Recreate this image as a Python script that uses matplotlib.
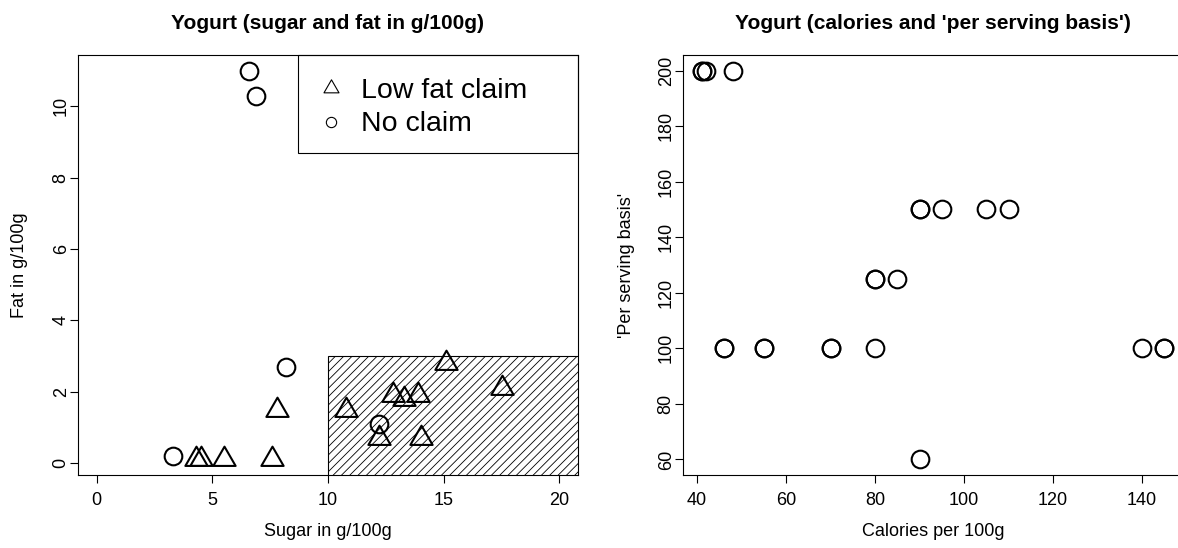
import matplotlib

matplotlib.use("Agg")
import matplotlib.pyplot as plt
from matplotlib.patches import Rectangle
from matplotlib.path import Path

plt.rcParams["font.family"] = ["Liberation Sans", "DejaVu Sans"]
plt.rcParams["hatch.linewidth"] = 0.6

# Left panel: sugar vs fat (g/100g)
sugar_lowfat = [15.1, 17.5, 12.8, 13.3, 13.9, 10.8, 12.2, 14.0, 7.8, 7.6, 5.5, 4.3, 4.5]
fat_lowfat = [2.8, 2.1, 1.9, 1.8, 1.9, 1.5, 0.7, 0.7, 1.5, 0.1, 0.1, 0.1, 0.1]
sugar_noclaim = [6.6, 6.9, 8.2, 3.3, 12.2]
fat_noclaim = [11.0, 10.3, 2.7, 0.2, 1.1]
sugar_range = (0, 20)
sugar_ticks = [0, 5, 10, 15, 20]
fat_ticks = [0, 2, 4, 6, 8, 10]
SUGAR_CUT = 10  # shaded region: sugar >= 10 and fat <= 3
FAT_CUT = 3

# Right panel: calories vs 'per serving basis'
calories = [41, 41, 42, 48, 46, 46, 55, 55, 70, 70, 80, 80, 80, 85,
            90, 90, 95, 105, 110, 90, 140, 145, 145]
serving = [200, 200, 200, 200, 100, 100, 100, 100, 100, 100, 100, 125, 125, 125,
           150, 150, 150, 150, 150, 60, 100, 100, 100]
cal_ticks = [40, 60, 80, 100, 120, 140]
serving_ticks = [60, 80, 100, 120, 140, 160, 180, 200]

# R-like open triangle (pch = 2), centred on its circumcentre
TRIANGLE = Path(
    [(0, 1.555), (1.347, -0.778), (-1.347, -0.778), (0, 1.555)],
    [Path.MOVETO, Path.LINETO, Path.LINETO, Path.CLOSEPOLY],
)


def r_lim(lo, hi):
    """Pad a range by 4% on each side like R's default xaxs='r'."""
    pad = 0.04 * (hi - lo)
    return lo - pad, hi + pad


def r_axes(ax, xticks, yticks):
    ax.set_xticks(xticks)
    ax.set_yticks(yticks)
    ax.tick_params(direction="out", length=5.5, width=0.8, labelsize=13)
    ax.tick_params(axis="x", pad=7)
    ax.tick_params(axis="y", pad=0.5)
    plt.setp(ax.get_yticklabels(), rotation=90, va="center")
    for spine in ax.spines.values():
        spine.set_linewidth(0.8)


fig = plt.figure(figsize=(11.78, 5.48), dpi=100)
ax1 = fig.add_axes([0.0662, 0.1332, 0.4244, 0.7664])
ax2 = fig.add_axes([0.5798, 0.1332, 0.4244, 0.7664])

# --- left panel ---
ax1.add_patch(Rectangle((SUGAR_CUT, -5), 30, FAT_CUT + 5, fill=False,
                        hatch="////", edgecolor="black", linewidth=0.8))
ax1.plot(sugar_lowfat, fat_lowfat, ls="none", marker=TRIANGLE, ms=18.5,
         mfc="none", mec="black", mew=1.5)
ax1.plot(sugar_noclaim, fat_noclaim, ls="none", marker="o", ms=12.7,
         mfc="none", mec="black", mew=1.5)
ax1.set_xlim(*r_lim(*sugar_range))
ax1.set_ylim(*r_lim(min(fat_lowfat + fat_noclaim), max(fat_lowfat + fat_noclaim)))
r_axes(ax1, sugar_ticks, fat_ticks)
ax1.set_title("Yogurt (sugar and fat in g/100g)", fontsize=15, fontweight="bold", pad=19)
ax1.set_xlabel("Sugar in g/100g", fontsize=13)
ax1.set_ylabel("Fat in g/100g", fontsize=13)
ax1.xaxis.set_label_coords(0.5, -0.115)
ax1.yaxis.set_label_coords(-0.099, 0.5)

# hand-drawn legend box in the top-right corner, R style
ax1.add_patch(Rectangle((0.4395, 0.7667), 0.5605, 0.2333, transform=ax1.transAxes,
                        fill=False, edgecolor="black", linewidth=0.8, clip_on=False))
ax1.plot([0.5056], [0.9220], transform=ax1.transAxes, marker=TRIANGLE, ms=12.5,
         mfc="none", mec="black", mew=0.8, ls="none")
ax1.plot([0.5056], [0.8405], transform=ax1.transAxes, marker="o", ms=7.4,
         mfc="none", mec="black", mew=0.8, ls="none")
ax1.text(0.5670, 0.8976, "Low fat claim", transform=ax1.transAxes, fontsize=20.5, va="baseline")
ax1.text(0.5670, 0.8181, "No claim", transform=ax1.transAxes, fontsize=20.5, va="baseline")

# --- right panel (its right edge falls outside the picture) ---
ax2.plot(calories, serving, ls="none", marker="o", ms=12.7,
         mfc="none", mec="black", mew=1.5, clip_on=False)
ax2.set_xlim(*r_lim(min(calories), max(calories)))
ax2.set_ylim(*r_lim(min(serving), max(serving)))
r_axes(ax2, cal_ticks, serving_ticks)
ax2.spines["right"].set_visible(False)
ax2.set_title("Yogurt (calories and 'per serving basis')", fontsize=15, fontweight="bold", pad=19)
ax2.set_xlabel("Calories per 100g", fontsize=13)
ax2.set_ylabel("'Per serving basis'", fontsize=13)
ax2.xaxis.set_label_coords(0.5, -0.115)
ax2.yaxis.set_label_coords(-0.096, 0.5)

fig.savefig("out.png", dpi=100)
